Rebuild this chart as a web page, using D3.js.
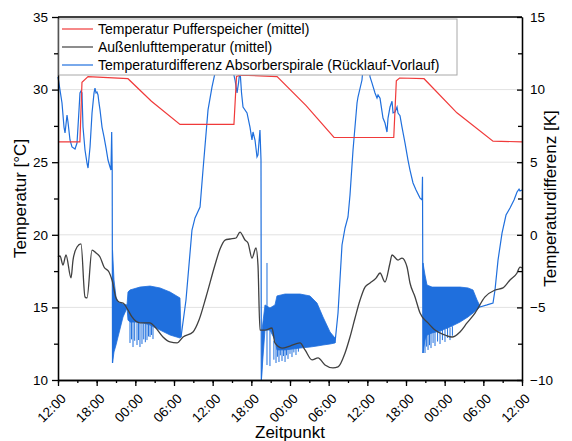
<!DOCTYPE html>
<html>
<head>
<meta charset="utf-8">
<script src="https://cdn.jsdelivr.net/npm/d3@7"></script>
<style>
  body { margin: 0; background: #fff; }
  svg { font-family: "Liberation Sans", Arial, sans-serif; }
  .axis path, .axis line { stroke: #000; stroke-width: 1.3; }
  .axis text { font-size: 13.5px; fill: #000; }
</style>
</head>
<body>
<svg id="chart" width="572" height="441"></svg>
<script>
// hours since 12:00 on the first day
const pufferT = [0, 3.40, 3.72, 4.66, 10.86, 14.5, 18.93, 27.30, 27.70, 28.30, 34.00, 38.5, 42.83, 52.10, 52.50, 53.00, 56.80, 61.90, 67.50, 72];
const pufferV = [26.4, 26.4, 30.5, 30.9, 30.75, 29.2, 27.6, 27.6, 30.9, 31.0, 30.9, 28.9, 26.7, 26.7, 30.6, 30.8, 30.75, 28.4, 26.45, 26.4];

const aussenT = [0, 0.31, 0.78, 1.24, 2.02, 2.33, 2.95, 3.57, 4.19, 4.50, 5.28, 5.90, 6.52, 7.14, 7.91, 8.38, 9.00, 9.47, 10.09, 10.86, 11.48, 12.72, 14.28, 15.05, 16.29, 17.38, 18.47, 19.40, 20.95, 21.88, 22.97, 24.36, 25.14, 25.92, 26.69, 27.62, 28.24, 29.02, 29.48, 30.10, 30.72, 31.03, 31.34, 32.12, 33.21, 33.67, 34.76, 36.00, 37.55, 38.33, 39.42, 40.35, 41.43, 42.67, 43.45, 44.54, 45.31, 46.09, 46.87, 47.64, 48.42, 49.35, 49.97, 50.74, 51.52, 51.83, 52.76, 53.38, 54.16, 54.62, 55.40, 56.18, 57.42, 58.50, 60.05, 61.14, 62.38, 63.47, 64.71, 66.26, 67.81, 69.05, 70.14, 71.23, 71.69, 72];
const aussenV = [18.47, 18.54, 17.92, 18.61, 17.03, 18.26, 19.16, 19.37, 15.72, 15.65, 18.95, 18.75, 18.47, 17.78, 17.44, 16.89, 15.65, 15.37, 15.30, 14.82, 14.34, 13.93, 13.93, 13.65, 12.96, 12.62, 12.55, 12.96, 13.31, 14.13, 15.72, 17.92, 19.02, 19.64, 19.71, 19.78, 20.19, 19.64, 19.44, 18.40, 19.09, 17.92, 13.44, 13.44, 13.58, 12.55, 12.20, 12.34, 12.55, 12.07, 11.38, 11.52, 11.03, 10.83, 10.90, 11.86, 12.96, 14.27, 15.51, 16.40, 16.68, 17.02, 17.37, 16.75, 18.06, 18.61, 18.26, 18.40, 17.78, 16.68, 15.72, 14.61, 13.93, 13.44, 13.10, 12.96, 13.31, 13.93, 14.61, 15.72, 16.20, 16.34, 16.89, 17.37, 17.78, 17.71];

// Temperaturdifferenz, smooth parts (null = gap, oscillating phase drawn as band)
const diffT = [0, 0.62, 0.93, 1.09, 1.40, 1.55, 1.86, 2.17, 2.64, 2.95, 3.26, 3.41, 3.57, 3.72, 3.88, 4.19, 4.50, 4.66, 4.97, 5.28, 5.59, 5.74, 5.90, 6.05, 6.21, 6.36, 6.52, 6.83, 7.14, 7.45, 7.76, 8.07, 8.22, 8.33, 8.41, 8.46, null,
  19.09, 19.86, 20.79, 21.26, 22.04, 22.50, 23.28, 23.90, 24.36, 24.83, 25.92, 26.80, 27.47, 27.78, 28.01, 28.24, 28.48, 28.71, 29.33, 29.79, 30.10, 30.26, 30.57, 30.88, 31.03, 31.34, 31.50, 31.55, 31.66, null,
  42.98, 43.45, 44.07, 44.54, 45.00, 45.31, 45.78, 46.40, 46.55, 47.17, 47.64, 48.26, 48.42, 48.73, 49.19, 49.50, 49.66, 49.97, 50.43, 50.74, 51.05, 51.21, 51.52, 51.83, 51.99, 52.30, 52.61, 52.76, 53.07, 53.38, 53.85, 54.31, 54.62, 55.09, 55.56, 56.18, 56.49, 56.56, 56.64, null,
  65.48, 66.57, 67.50, 67.81, 68.28, 68.90, 69.52, 70.14, 70.76, 71.23, 71.54, 71.69, 72];
const diffV = [10.87, 9.08, 7.42, 7.01, 8.25, 7.77, 6.53, 6.05, 5.91, 6.32, 8.60, 9.77, 9.90, 9.77, 7.42, 5.84, 4.94, 4.60, 6.05, 8.39, 9.77, 10.11, 9.77, 9.83, 9.63, 9.08, 8.60, 7.42, 6.74, 5.98, 5.15, 4.67, 4.46, 7.08, 4.46, -8.83, null,
  -7.04, -4.49, 0.33, 1.16, 1.91, 4.46, 8.60, 10.18, 11.14, 12.38, 12.73, 12.04, 10.66, 9.77, 10.45, 11.35, 9.77, 8.80, 8.39, 7.42, 6.53, 7.08, 6.53, 5.36, 5.50, 7.22, 5.15, -10.0, -9.31, null,
  -7.45, -5.39, -0.70, 0.47, 1.23, 2.74, 5.84, 9.08, 9.49, 10.66, 13.07, 11.69, 10.87, 10.45, 9.77, 9.42, 9.63, 9.40, 8.04, 7.70, 7.08, 8.04, 8.80, 9.20, 8.40, 8.46, 8.80, 8.39, 8.20, 7.42, 6.32, 5.15, 4.46, 3.57, 3.09, 2.53, 2.40, 4.00, -8.14, null,
  -4.97, -4.83, -4.70, -3.80, -1.74, 0.12, 1.36, 1.85, 2.40, 2.95, 3.15, 3.02, 3.09];

// oscillating phases: [hour, lower envelope, upper envelope]
const band1 = [[8.46, -8.83, -1.05], [8.69, -8.07, -3.11], [9.00, -7.59, -4.28], [9.31, -7.04, -4.63], [10.09, -5.66, -4.77], [10.71, -5.04, -4.83], [10.86, -5.87, -3.94], [11.17, -6.01, -3.80], [12.72, -6.01, -3.60], [14.28, -6.21, -3.53], [15.83, -6.56, -3.66], [17.38, -6.90, -3.94], [18.93, -7.11, -4.35], [19.09, -7.04, -6.97]];
const band2 = [[31.66, -9.31, -6.56], [32.12, -6.56, -4.83], [32.89, -6.56, -5.04], [33.67, -7.25, -4.83], [33.98, -7.93, -4.21], [35.23, -7.93, -4.08], [37.55, -7.80, -4.08], [39.10, -7.73, -4.21], [40.19, -7.66, -4.70], [41.12, -7.59, -5.66], [42.21, -7.52, -6.69], [42.98, -7.45, -7.11]];
const band3 = [[56.64, -8.14, -1.94], [56.95, -7.25, -2.77], [57.26, -6.90, -3.46], [58.04, -6.76, -3.60], [59.28, -6.63, -3.60], [60.83, -6.35, -3.60], [62.38, -6.01, -3.60], [63.62, -5.66, -3.66], [64.40, -5.39, -3.80], [65.02, -5.18, -4.49], [65.48, -4.97, -4.90]];

// single spikes in the oscillating phases: [hour, top, bottom]
const spikes = [[11.17, -6.0, -7.45], [11.40, -6.0, -7.20], [11.64, -6.0, -7.73], [11.90, -6.0, -7.30], [12.26, -6.0, -7.59], [12.50, -6.0, -7.25], [12.72, -6.0, -7.73], [13.03, -6.0, -7.52], [13.30, -6.1, -7.20], [13.55, -6.1, -7.40], [13.81, -6.1, -7.25], [14.05, -6.1, -7.00], [14.28, -6.1, -7.04], [14.50, -6.2, -6.90], [14.74, -6.2, -7.18],
  [32.43, -8.97, -1.94], [32.89, -6.5, -9.04], [33.50, -7.3, -8.60], [33.83, -7.5, -8.83], [34.05, -7.5, -8.40], [34.29, -7.5, -8.76], [34.50, -7.5, -8.30], [34.76, -7.5, -8.69], [35.00, -7.5, -8.35], [35.23, -7.5, -8.76], [35.45, -7.5, -8.30], [35.69, -7.5, -8.55], [36.00, -7.5, -8.20], [36.31, -7.5, -8.42], [36.60, -7.5, -8.10], [36.93, -7.5, -8.28], [37.30, -7.5, -8.05],
  [56.95, -6.8, -8.14], [57.20, -6.8, -7.70], [57.42, -6.8, -7.93], [57.65, -6.8, -7.60], [57.88, -6.7, -7.80], [58.20, -6.7, -7.45], [58.50, -6.7, -7.66], [58.90, -6.6, -7.35], [59.28, -6.6, -7.52], [59.65, -6.5, -7.25], [60.05, -6.5, -7.38], [60.45, -6.4, -7.10], [60.83, -6.4, -7.25], [61.20, -6.3, -6.95]];

const leftTicks = [10, 15, 20, 25, 30, 35];
const rightTicks = [-10, -5, 0, 5, 10, 15];
const legendLabels = ['Temperatur Pufferspeicher (mittel)', 'Außenlufttemperatur (mittel)', 'Temperaturdifferenz Absorberspirale (Rücklauf-Vorlauf)'];
const colors = ['#f03a3a', '#404040', '#1f6fdd'];

const svg = d3.select('#chart');
const plotL = 58, plotR = 522, plotT = 17, plotB = 380;
const base = Date.UTC(2020, 0, 1, 12);
const toDate = (h) => new Date(base + h * 3600e3);

const x = d3.scaleUtc().domain([toDate(0), toDate(72)]).range([plotL, plotR]);
const yL = d3.scaleLinear().domain([10, 35]).range([plotB, plotT]);
const yR = d3.scaleLinear().domain([-10, 15]).range([plotB, plotT]);

// grid
svg.append('g')
	.selectAll('line')
	.data(leftTicks.slice(1, -1))
	.enter().append('line')
	.attr('x1', plotL).attr('x2', plotR)
	.attr('y1', (d) => yL(d)).attr('y2', (d) => yL(d))
	.style('stroke', '#e2e2e2').style('stroke-width', 1);

const plot = svg.append('g');

// blue bands + spikes + line
const bandArea = d3.area()
	.x((d) => x(toDate(d[0])))
	.y0((d) => yR(d[1]))
	.y1((d) => yR(d[2]));

plot.selectAll('.band')
	.data([band1, band2, band3])
	.enter().append('path')
	.attr('class', 'band')
	.attr('d', bandArea)
	.style('fill', colors[2])
	.style('stroke', colors[2])
	.style('stroke-width', 0.8);

plot.selectAll('.spike')
	.data(spikes)
	.enter().append('line')
	.attr('class', 'spike')
	.attr('x1', (d) => x(toDate(d[0]))).attr('x2', (d) => x(toDate(d[0])))
	.attr('y1', (d) => yR(d[1])).attr('y2', (d) => yR(d[2]))
	.style('stroke', colors[2]).style('stroke-width', 1);

const diffData = diffT.map((t, i) => t === null ? null : [t, diffV[i]]);
plot.append('path')
	.datum(diffData)
	.attr('d', d3.line().defined((d) => d !== null).x((d) => x(toDate(d[0]))).y((d) => yR(d[1])))
	.style('fill', 'none').style('stroke', colors[2]).style('stroke-width', 1.2);

plot.append('path')
	.datum(aussenT.map((t, i) => [t, aussenV[i]]))
	.attr('d', d3.line().curve(d3.curveMonotoneX).x((d) => x(toDate(d[0]))).y((d) => yL(d[1])))
	.style('fill', 'none').style('stroke', colors[1]).style('stroke-width', 1.3);

plot.append('path')
	.datum(pufferT.map((t, i) => [t, pufferV[i]]))
	.attr('d', d3.line().x((d) => x(toDate(d[0]))).y((d) => yL(d[1])))
	.style('fill', 'none').style('stroke', colors[0]).style('stroke-width', 1.2);

// axes
const minorLeft = d3.range(12.5, 35, 5);
svg.append('g').attr('class', 'axis')
	.attr('transform', 'translate(' + plotL + ',0)')
	.call(d3.axisLeft(yL).tickValues(minorLeft).tickSize(4).tickSizeOuter(0).tickFormat(''));
svg.append('g').attr('class', 'axis')
	.attr('transform', 'translate(' + plotL + ',0)')
	.call(d3.axisLeft(yL).tickValues(leftTicks).tickSize(6).tickSizeOuter(0).tickPadding(4));

const minorRight = d3.range(-7.5, 15, 5);
svg.append('g').attr('class', 'axis')
	.attr('transform', 'translate(' + plotR + ',0)')
	.call(d3.axisRight(yR).tickValues(minorRight).tickSize(-4).tickSizeOuter(0).tickFormat(''));
svg.append('g').attr('class', 'axis')
	.attr('transform', 'translate(' + plotR + ',0)')
	.call(d3.axisRight(yR).tickValues(rightTicks).tickSize(-5).tickSizeOuter(0).tickPadding(8));

svg.append('g').attr('class', 'axis')
	.attr('transform', 'translate(0,' + plotB + ')')
	.call(d3.axisBottom(x).ticks(d3.utcHour.every(3)).tickSize(3).tickSizeOuter(0).tickFormat(''));
const xAxis = svg.append('g').attr('class', 'axis')
	.attr('transform', 'translate(0,' + plotB + ')')
	.call(d3.axisBottom(x).ticks(d3.utcHour.every(6)).tickSize(6).tickSizeOuter(0).tickFormat(d3.utcFormat('%H:%M')));
xAxis.selectAll('text')
	.attr('x', 0).attr('y', 0).attr('dy', '0.35em')
	.attr('text-anchor', 'end')
	.attr('transform', 'translate(5,16) rotate(-45)');

svg.append('line')
	.attr('x1', plotL).attr('x2', plotR).attr('y1', plotT).attr('y2', plotT)
	.style('stroke', '#000').style('stroke-width', 1.3);

// titles
svg.append('text').attr('transform', 'translate(26,' + (plotT + plotB) / 2 + ') rotate(-90)')
	.attr('text-anchor', 'middle').style('font-size', '17px').text('Temperatur [°C]');
svg.append('text').attr('transform', 'translate(556,' + (plotT + plotB) / 2 + ') rotate(-90)')
	.attr('text-anchor', 'middle').style('font-size', '17px').text('Temperaturdifferenz [K]');
svg.append('text').attr('x', (plotL + plotR) / 2).attr('y', 438)
	.attr('text-anchor', 'middle').style('font-size', '17px').text('Zeitpunkt');

// legend
const legend = svg.append('g').attr('transform', 'translate(59,19)');
legend.append('rect').attr('width', 398).attr('height', 56)
	.style('fill', '#fff').style('stroke', '#a8a8a8').style('stroke-width', 1);
const rows = legend.selectAll('.legend-row')
	.data(legendLabels)
	.enter().append('g')
	.attr('class', 'legend-row')
	.attr('transform', (d, i) => 'translate(0,' + (10 + i * 18) + ')');
rows.append('line').attr('x1', 3).attr('x2', 34).attr('y1', 0).attr('y2', 0)
	.style('stroke', (d, i) => colors[i]).style('stroke-width', 1.2);
rows.append('text').attr('x', 39).attr('dy', '0.35em').style('font-size', '14px').text((d) => d);
</script>
</body>
</html>
